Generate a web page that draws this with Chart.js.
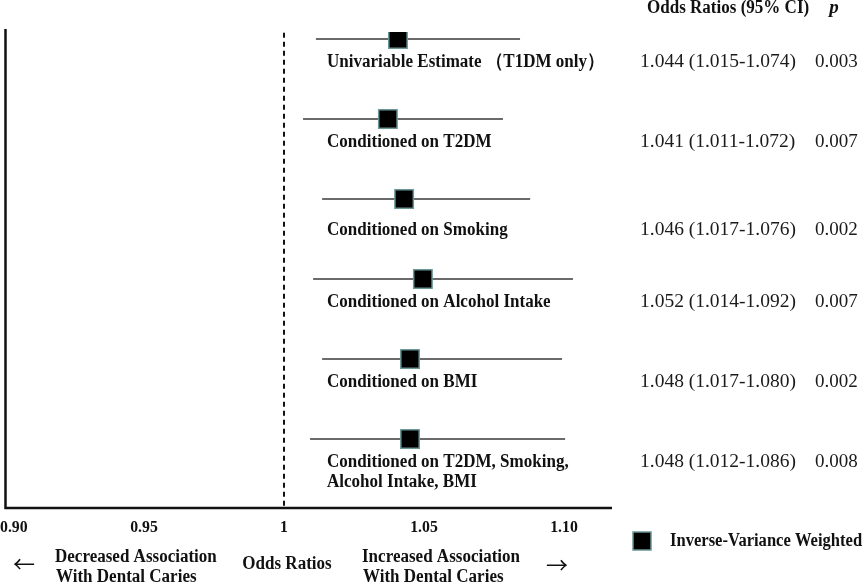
<!DOCTYPE html>
<html>
<head>
<meta charset="utf-8">
<script src="https://cdn.jsdelivr.net/npm/chart.js@4.4.1/dist/chart.umd.min.js"></script>
<style>
  html, body { margin: 0; padding: 0; background: #ffffff; }
  #wrap { width: 865px; height: 583px; position: relative; }
</style>
</head>
<body>
<div id="wrap"><canvas id="c" width="865" height="583"></canvas></div>
<script>
// ---- data ----
const categories = [
  ["Univariable Estimate \uFF08T1DM only\uFF09"],
  ["Conditioned on T2DM"],
  ["Conditioned on Smoking"],
  ["Conditioned on Alcohol Intake"],
  ["Conditioned on BMI"],
  ["Conditioned on T2DM, Smoking,", "Alcohol Intake, BMI"]
];
const orPoint = [1.0407, 1.0371, 1.0429, 1.0496, 1.0450, 1.0450];
const ciLow   = [1.0114, 1.0068, 1.0136, 1.0104, 1.0136, 1.0093];
const ciHigh  = [1.0843, 1.0782, 1.0879, 1.1032, 1.0993, 1.1004];
const orText  = ["1.044 (1.015-1.074)", "1.041 (1.011-1.072)", "1.046 (1.017-1.076)",
                 "1.052 (1.014-1.092)", "1.048 (1.017-1.080)", "1.048 (1.012-1.086)"];
const pText   = ["0.003", "0.007", "0.002", "0.007", "0.002", "0.008"];
const xTickValues = [0.90, 0.95, 1, 1.05, 1.10];
const xTickLabels = ["0.90", "0.95", "1", "1.05", "1.10"];
const nullValue = 1;
const legendLabel = "Inverse-Variance Weighted";

// ---- layout / style ----
const X_MIN = 0.90036, X_MAX = 1.11714;
const Y_MIN = -0.0875, Y_MAX = 5.8625;
const labelOffsets = [23, 23, 31, 23, 23, 23];
const SERIF = '"Liberation Serif", "Times New Roman", "Noto Serif", serif';
const SQ_FILL = '#000000', SQ_BORDER = '#6a9696';

const rows = categories.map((_, i) => i);
const datasets = [];
datasets.push({
  type: 'scatter',
  label: legendLabel,
  data: rows.map(i => ({ x: orPoint[i], y: i })),
  pointStyle: 'rect',
  pointRadius: 13,
  pointBackgroundColor: SQ_FILL,
  pointBorderColor: SQ_BORDER,
  pointBorderWidth: 1.5,
  order: 0
});
rows.forEach(i => {
  datasets.push({
    type: 'line',
    label: 'ci' + i,
    data: [{ x: ciLow[i], y: i }, { x: ciHigh[i], y: i }],
    borderColor: '#3a3a3a',
    borderWidth: 1.3,
    pointRadius: 0,
    order: 1
  });
});
datasets.push({
  type: 'line',
  label: 'null',
  data: [{ x: nullValue, y: Y_MIN + 0.01 }, { x: nullValue, y: Y_MAX }],
  borderColor: '#111111',
  borderWidth: 2,
  borderDash: [5, 4],
  pointRadius: 0,
  order: 2
});

// draw horizontally condensed text
function txt(ctx, s, x, y, font, align, sx) {
  ctx.save();
  ctx.font = font;
  ctx.textBaseline = 'middle';
  ctx.textAlign = align;
  ctx.translate(x, y);
  ctx.scale(sx, 1);
  ctx.fillText(s, 0, 0);
  ctx.restore();
}

const textPlugin = {
  id: 'forestText',
  afterDraw(chart) {
    const ctx = chart.ctx;
    const xs = chart.scales.x, ys = chart.scales.y;
    ctx.save();
    ctx.fillStyle = '#111111';
    ctx.strokeStyle = '#111111';
    // axes lines
    ctx.lineWidth = 2.5;
    ctx.beginPath();
    ctx.moveTo(xs.left + 0.5, ys.top - 3);
    ctx.lineTo(xs.left + 0.5, ys.bottom);
    ctx.lineTo(xs.right, ys.bottom);
    ctx.stroke();

    // x tick labels
    const tickFont = 'bold 17px ' + SERIF;
    ctx.font = tickFont;
    xTickValues.forEach((v, k) => {
      const t = xTickLabels[k];
      const half = ctx.measureText(t).width * 0.93 / 2;
      const px = Math.max(xs.getPixelForValue(v), half);
      txt(ctx, t, px, ys.bottom + 20, tickFont, 'center', 0.93);
    });

    // row labels + values
    const labelX = 327;
    const labFont = 'bold 18.5px ' + SERIF;
    rows.forEach(i => {
      const y = ys.getPixelForValue(i) + labelOffsets[i];
      ctx.fillStyle = '#111111';
      categories[i].forEach((line, j) => txt(ctx, line, labelX, y + j * 20, labFont, 'left', 0.92));
      ctx.fillStyle = '#1a1a1a';
      txt(ctx, orText[i], 640, y, '19.5px ' + SERIF, 'left', 1);
      txt(ctx, pText[i], 815, y, '19px ' + SERIF, 'left', 1);
    });

    // headers
    ctx.fillStyle = '#111111';
    txt(ctx, 'Odds Ratios (95% CI)', 647, 8, 'bold 18.5px ' + SERIF, 'left', 0.92);
    txt(ctx, 'p', 834, 8, 'italic bold 19px ' + SERIF, 'center', 1);

    // bottom labels
    const botFont = 'bold 18.5px ' + SERIF;
    txt(ctx, 'Decreased Association', 55, 557, botFont, 'left', 0.92);
    txt(ctx, 'With Dental Caries', 56, 577, botFont, 'left', 0.92);
    txt(ctx, 'Increased Association', 362, 557, botFont, 'left', 0.92);
    txt(ctx, 'With Dental Caries', 363, 577, botFont, 'left', 0.92);
    txt(ctx, 'Odds Ratios', xs.getPixelForValue(nullValue) + 3, 564, botFont, 'center', 0.92);
    const arrowFont = '22px "Noto Sans CJK SC", "DejaVu Sans", sans-serif';
    txt(ctx, '\u2190', 24, 564, arrowFont, 'center', 1);
    txt(ctx, '\u2192', 557, 565, arrowFont, 'center', 1);

    // legend
    const lx = 642, ly = 541, s = 18;
    ctx.fillStyle = SQ_FILL;
    ctx.fillRect(lx - s / 2, ly - s / 2, s, s);
    ctx.strokeStyle = SQ_BORDER;
    ctx.lineWidth = 1.5;
    ctx.strokeRect(lx - s / 2, ly - s / 2, s, s);
    ctx.fillStyle = '#111111';
    txt(ctx, legendLabel, 670, ly, 'bold 18px ' + SERIF, 'left', 0.92);
    ctx.restore();
  }
};

new Chart(document.getElementById('c'), {
  data: { datasets },
  options: {
    responsive: false,
    animation: false,
    layout: { autoPadding: false, padding: { left: 5, right: 253, top: 32, bottom: 75 } },
    plugins: { legend: { display: false }, tooltip: { enabled: false } },
    scales: {
      x: { type: 'linear', min: X_MIN, max: X_MAX, display: false },
      y: { type: 'linear', min: Y_MIN, max: Y_MAX, reverse: true, display: false }
    }
  },
  plugins: [textPlugin]
});
</script>
</body>
</html>
